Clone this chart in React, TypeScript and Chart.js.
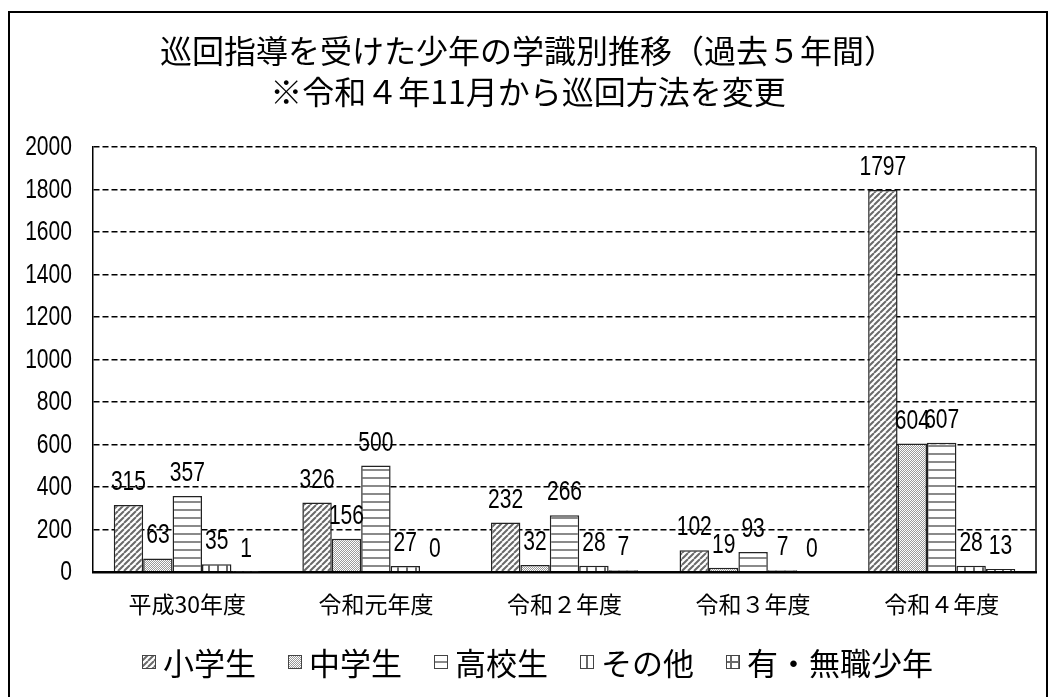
import React, { useEffect, useRef } from 'react';
import { Chart, registerables } from 'chart.js';

Chart.register(...registerables);

const titleLines = ['巡回指導を受けた少年の学識別推移（過去５年間）', '※令和４年11月から巡回方法を変更'];
const categories = ['平成30年度', '令和元年度', '令和２年度', '令和３年度', '令和４年度'];
const seriesNames = ['小学生', '中学生', '高校生', 'その他', '有・無職少年'];
const elementary = [315, 326, 232, 102, 1797];
const juniorHigh = [63, 156, 32, 19, 604];
const highSchool = [357, 500, 266, 93, 607];
const others = [35, 27, 28, 7, 28];
const employed = [1, 0, 7, 0, 13];
const yMin = 0;
const yMax = 2000;
const yStep = 200;

const cjkFont = "'Noto Sans CJK JP', 'Noto Sans', sans-serif";
const numFont = "'Liberation Sans', Arial, sans-serif";
const numSize = 27;
const condense = 0.78;

type PatternKind = 'diag' | 'dots' | 'hlines' | 'vlines' | 'grid';
const patternKinds: PatternKind[] = ['diag', 'dots', 'hlines', 'vlines', 'grid'];

function makePattern(kind: PatternKind, ctxMain: CanvasRenderingContext2D): CanvasPattern | string {
  const c = document.createElement('canvas');
  const ctx = c.getContext('2d');
  if (!ctx) return '#999';
  let s = 8;
  if (kind === 'diag') {
    s = 6;
    c.width = s; c.height = s;
    ctx.fillStyle = '#ffffff';
    ctx.fillRect(0, 0, s, s);
    ctx.strokeStyle = '#6a6a6a';
    ctx.lineWidth = 2;
    ctx.beginPath();
    for (const k of [-s, 0, s]) {
      ctx.moveTo(k, s);
      ctx.lineTo(k + s, 0);
    }
    ctx.stroke();
  } else if (kind === 'dots') {
    s = 4;
    c.width = s; c.height = s;
    ctx.fillStyle = '#ffffff';
    ctx.fillRect(0, 0, s, s);
    ctx.fillStyle = '#9a9a9a';
    for (let x = 0; x < s; x++) {
      for (let y = 0; y < s; y++) {
        if ((x + y) % 2 === 0) ctx.fillRect(x, y, 1, 1);
      }
    }
  } else if (kind === 'hlines') {
    s = 8;
    c.width = s; c.height = s;
    ctx.fillStyle = '#ffffff';
    ctx.fillRect(0, 0, s, s);
    ctx.fillStyle = '#8a8a8a';
    ctx.fillRect(0, 0, s, 2);
  } else if (kind === 'vlines') {
    s = 9;
    c.width = s; c.height = s;
    ctx.fillStyle = '#ffffff';
    ctx.fillRect(0, 0, s, s);
    ctx.fillStyle = '#6a6a6a';
    ctx.fillRect(0, 0, 2, s);
  } else {
    s = 8;
    c.width = s; c.height = s;
    ctx.fillStyle = '#ffffff';
    ctx.fillRect(0, 0, s, s);
    ctx.fillStyle = '#6a6a6a';
    ctx.fillRect(0, 0, 2, s);
    ctx.fillRect(0, 0, s, 2);
  }
  return ctxMain.createPattern(c, 'repeat') || '#999';
}

function drawCondensed(ctx: CanvasRenderingContext2D, text: string, x: number, y: number) {
  ctx.save();
  ctx.translate(x, y);
  ctx.scale(condense, 1);
  ctx.fillText(text, 0, 0);
  ctx.restore();
}

const valueLabels = {
  id: 'valueLabels',
  afterDatasetsDraw(chart: any) {
    const ctx = chart.ctx as CanvasRenderingContext2D;
    ctx.save();
    ctx.font = `${numSize}px ${numFont}`;
    ctx.fillStyle = '#000';
    ctx.textAlign = 'center';
    ctx.textBaseline = 'alphabetic';
    chart.data.datasets.forEach((ds: any, i: number) => {
      const meta = chart.getDatasetMeta(i);
      meta.data.forEach((el: any, j: number) => {
        drawCondensed(ctx, String(ds.data[j]), el.x, el.y - 15);
      });
    });
    ctx.restore();
  },
};

const yTickLabels = {
  id: 'yTickLabels',
  afterDraw(chart: any) {
    const ctx = chart.ctx as CanvasRenderingContext2D;
    const scale = chart.scales.y;
    ctx.save();
    ctx.font = `${numSize}px ${numFont}`;
    ctx.fillStyle = '#000';
    ctx.textAlign = 'right';
    ctx.textBaseline = 'middle';
    const x = chart.chartArea.left - 21;
    scale.ticks.forEach((t: any) => {
      drawCondensed(ctx, String(t.value), x, scale.getPixelForValue(t.value) + 1);
    });
    ctx.restore();
  },
};

const plotFrame = {
  id: 'plotFrame',
  afterDraw(chart: any) {
    const { ctx, chartArea } = chart;
    ctx.save();
    ctx.strokeStyle = '#000';
    ctx.lineWidth = 1.5;
    ctx.beginPath();
    ctx.moveTo(chartArea.right, chartArea.top);
    ctx.lineTo(chartArea.right, chartArea.bottom);
    ctx.stroke();
    ctx.restore();
  },
};

const customLegend = {
  id: 'customLegend',
  afterDraw(chart: any) {
    const ctx = chart.ctx as CanvasRenderingContext2D;
    const box = 14;
    const gap = 7;
    const spacing = 32;
    const centerX = 527.5;
    const centerY = 649;
    ctx.save();
    ctx.font = `31px ${cjkFont}`;
    const items = chart.data.datasets.map((ds: any) => ({
      label: ds.label as string,
      fill: ds.backgroundColor,
      w: box + gap + ctx.measureText(ds.label).width,
    }));
    const total = items.reduce((a: number, it: any) => a + it.w, 0) + spacing * (items.length - 1);
    let x = centerX - total / 2;
    ctx.textBaseline = 'middle';
    ctx.textAlign = 'left';
    for (const it of items) {
      ctx.fillStyle = it.fill;
      ctx.fillRect(x, centerY - box / 2, box, box);
      ctx.strokeStyle = '#444';
      ctx.lineWidth = 1;
      ctx.strokeRect(x + 0.5, centerY - box / 2 + 0.5, box - 1, box - 1);
      ctx.fillStyle = '#000';
      ctx.fillText(it.label, x + box + gap, centerY + 1);
      x += it.w + spacing;
    }
    ctx.restore();
  },
};

export default function App() {
  const canvasRef = useRef<HTMLCanvasElement | null>(null);

  useEffect(() => {
    const canvas = canvasRef.current;
    if (!canvas) return;
    const ctx = canvas.getContext('2d');
    if (!ctx) return;
    const patterns = patternKinds.map((k) => makePattern(k, ctx));
    const seriesValues = [elementary, juniorHigh, highSchool, others, employed];

    const chart = new Chart(canvas, {
      type: 'bar',
      data: {
        labels: categories,
        datasets: seriesValues.map((vals, i) => ({
          label: seriesNames[i],
          data: vals,
          backgroundColor: patterns[i] as any,
          borderColor: '#222',
          borderWidth: 1.5,
          categoryPercentage: 0.78,
          barPercentage: 1,
        })),
      },
      options: {
        responsive: false,
        animation: false,
        layout: { padding: { left: 10, right: 10, top: 0, bottom: 65.6 } },
        plugins: {
          legend: { display: false },
          tooltip: { enabled: false },
          title: {
            display: true,
            text: titleLines,
            color: '#000',
            font: { family: cjkFont, size: 32, weight: 'normal', lineHeight: 41 / 32 },
            padding: { top: 17.5, bottom: 34.5 },
          },
        },
        scales: {
          x: {
            grid: { display: false, drawTicks: false, tickLength: 0 },
            border: { display: true, color: '#000', width: 2.5 },
            ticks: {
              color: '#000',
              font: { family: cjkFont, size: 23 },
              padding: 19,
              maxRotation: 0,
              autoSkip: false,
            },
          },
          y: {
            min: yMin,
            max: yMax,
            grid: { color: '#000', lineWidth: 1.4, drawTicks: false, tickLength: 0 },
            border: { display: true, color: '#000', width: 1.5, dash: [6, 3] },
            ticks: {
              stepSize: yStep,
              display: false,
            },
            afterFit(scale: any) {
              scale.width = 73;
            },
          },
        },
      },
      plugins: [valueLabels, yTickLabels, plotFrame, customLegend],
    });
    return () => chart.destroy();
  }, []);

  return (
    <div
      style={{
        position: 'fixed',
        left: 8,
        top: 11,
        width: 1036,
        height: 690,
        border: '2px solid #000',
        background: '#fff',
      }}
    >
      <canvas ref={canvasRef} width={1036} height={690} style={{ display: 'block', width: 1036, height: 690 }} />
    </div>
  );
}
